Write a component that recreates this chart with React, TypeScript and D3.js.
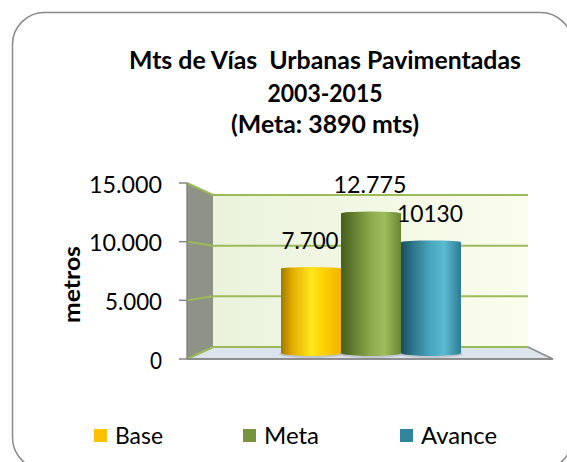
import React from "react";
import * as d3 from "d3";

const categories = ["Base", "Meta", "Avance"];
const values = [7700, 12775, 10130];
const valueLabels = ["7.700", "12.775", "10130"];
const tickValues = [0, 5000, 10000, 15000];
const tickLabels = ["0", "5.000", "10.000", "15.000"];
const titleLines = ["Mts de Vías  Urbanas Pavimentadas", "2003-2015", "(Meta: 3890 mts)"];
const axisTitle = "metros";

const legendColors = ["#FFC000", "#77933C", "#31849B"];
const gradStops = [
  ["#a07800", "#e0aa00", "#ffe61e", "#ffd000", "#f2b400"],
  ["#465d1e", "#5f7a2c", "#8cab4c", "#a0bd5c", "#6a8633"],
  ["#1b4e5e", "#2b7389", "#4aa7c0", "#5bb9d2", "#2d7c92"],
];

const FONT = "Lato, 'Open Sans', sans-serif";

export default function App() {
  const W = 567, H = 462;
  const frontX = 187, backX = 213, backRight = 528, frontRight = 553;
  const yFront = d3.scaleLinear().domain([0, 15000]).range([359, 183]);
  const yBack = d3.scaleLinear().domain([0, 15000]).range([347, 195]);
  const yMid = d3.scaleLinear().domain([0, 15000]).range([353, 189]);
  const x = d3.scaleBand<string>().domain(categories).range([281, 461]).padding(0);
  const ry = 3;

  const legendX = [94, 243, 400];
  const legendTextW = [48, 55, 76];
  const tickTextW: Record<string, number> = { "0": 12, "5.000": 57, "10.000": 73, "15.000": 73 };
  const labelW = [57, 73, 66];

  return (
    <svg width={W} height={H} style={{ position: "absolute", left: 0, top: 0 }} fontFamily={FONT}>
      <defs>
        <linearGradient id="wall" x1="0" x2="1" y1="0" y2="0">
          <stop offset="0" stopColor="#eaf2dc" />
          <stop offset="1" stopColor="#fbfdec" />
        </linearGradient>
        {gradStops.map((s, i) => (
          <linearGradient key={i} id={`bar${i}`} x1="0" x2="1" y1="0" y2="0">
            {s.map((c, j) => (
              <stop key={j} offset={[0, 0.18, 0.5, 0.72, 1][j]} stopColor={c} />
            ))}
          </linearGradient>
        ))}
      </defs>
      <rect x={0} y={0} width={W} height={H} fill="#ffffff" />
      <rect x={12.5} y={12.5} width={560} height={457} rx={32} ry={32} fill="#ffffff" stroke="#8a8a8a" strokeWidth={1.5} />

      {/* title */}
      {titleLines.map((t, i) => (
        <text
          key={i}
          x={325}
          y={[69, 102, 133][i]}
          textAnchor="middle"
          fontWeight="bold"
          fontSize={24}
          fill="#000"
          style={{ whiteSpace: "pre" }}
          textLength={[392, 115, 188][i]}
          lengthAdjust="spacingAndGlyphs"
        >
          {t}
        </text>
      ))}

      {/* back wall */}
      <rect x={backX} y={yBack(15000)} width={backRight - backX} height={yBack(0) - yBack(15000)} fill="url(#wall)" />
      {/* side wall */}
      <polygon
        points={`${frontX},${yFront(15000)} ${backX},${yBack(15000)} ${backX},${yBack(0)} ${frontX},${yFront(0)}`}
        fill="#8f9287"
      />
      {/* floor */}
      <polygon
        points={`${backX},${yBack(0)} ${backRight},${yBack(0)} ${frontRight},${yFront(0)} ${frontX},${yFront(0)}`}
        fill="#dbe3ec"
        stroke="#8c8c8c"
        strokeWidth={1.5}
      />
      {/* gridlines */}
      {tickValues.map((v) => (
        <g key={v}>
          <line x1={backX} x2={backRight} y1={yBack(v)} y2={yBack(v)} stroke="#9bbb59" strokeWidth={2} />
          <line x1={frontX} x2={backX} y1={yFront(v)} y2={yBack(v)} stroke="#9bbb59" strokeWidth={2} />
        </g>
      ))}
      {/* axis */}
      <line x1={frontX} x2={frontX} y1={yFront(15000)} y2={yFront(0)} stroke="#868686" strokeWidth={1.5} />
      <line x1={frontX} x2={frontRight} y1={yFront(0)} y2={yFront(0)} stroke="#868686" strokeWidth={1.5} />
      {tickValues.map((v, i) => (
        <g key={v}>
          <line x1={179} x2={frontX} y1={yFront(v)} y2={yFront(v)} stroke="#868686" strokeWidth={1.5} />
          <text
            x={162}
            y={yFront(v) + 9.5}
            textAnchor="end"
            fontSize={23}
            fill="#000"
            textLength={tickTextW[tickLabels[i]]}
            lengthAdjust="spacingAndGlyphs"
          >
            {tickLabels[i]}
          </text>
        </g>
      ))}
      <text
        transform="translate(80,284.5) rotate(-90)"
        textAnchor="middle"
        fontWeight="bold"
        fontSize={23}
        fill="#000"
        textLength={77}
        lengthAdjust="spacingAndGlyphs"
      >
        {axisTitle}
      </text>

      {/* bars */}
      {categories.map((c, i) => {
        const x0 = x(c)!;
        const w = x.bandwidth();
        const top = yMid(values[i]);
        const bot = yMid(0);
        return (
          <g key={c}>
            <ellipse cx={x0 + w / 2} cy={bot + 1} rx={w / 2 + 2} ry={ry + 1} fill="#000" opacity={0.12} />
            <path
              d={`M${x0},${top} L${x0},${bot} A${w / 2},${ry} 0 0 0 ${x0 + w},${bot} L${x0 + w},${top} Z`}
              fill={`url(#bar${i})`}
            />
            <ellipse cx={x0 + w / 2} cy={top} rx={w / 2} ry={ry * 0.6} fill={`url(#bar${i})`} />
          </g>
        );
      })}
      {categories.map((c, i) => (
        <text
          key={c}
          x={x(c)! + x.bandwidth() / 2 - 1}
          y={yMid(values[i]) - 20}
          textAnchor="middle"
          fontSize={23}
          fill="#000"
          textLength={labelW[i]}
          lengthAdjust="spacingAndGlyphs"
        >
          {valueLabels[i]}
        </text>
      ))}

      {/* legend */}
      {categories.map((c, i) => (
        <g key={c}>
          <rect x={legendX[i]} y={429} width={13} height={13} fill={legendColors[i]} />
          <text
            x={legendX[i] + 21}
            y={444}
            fontSize={23}
            fill="#000"
            textLength={legendTextW[i]}
            lengthAdjust="spacingAndGlyphs"
          >
            {c}
          </text>
        </g>
      ))}
    </svg>
  );
}
